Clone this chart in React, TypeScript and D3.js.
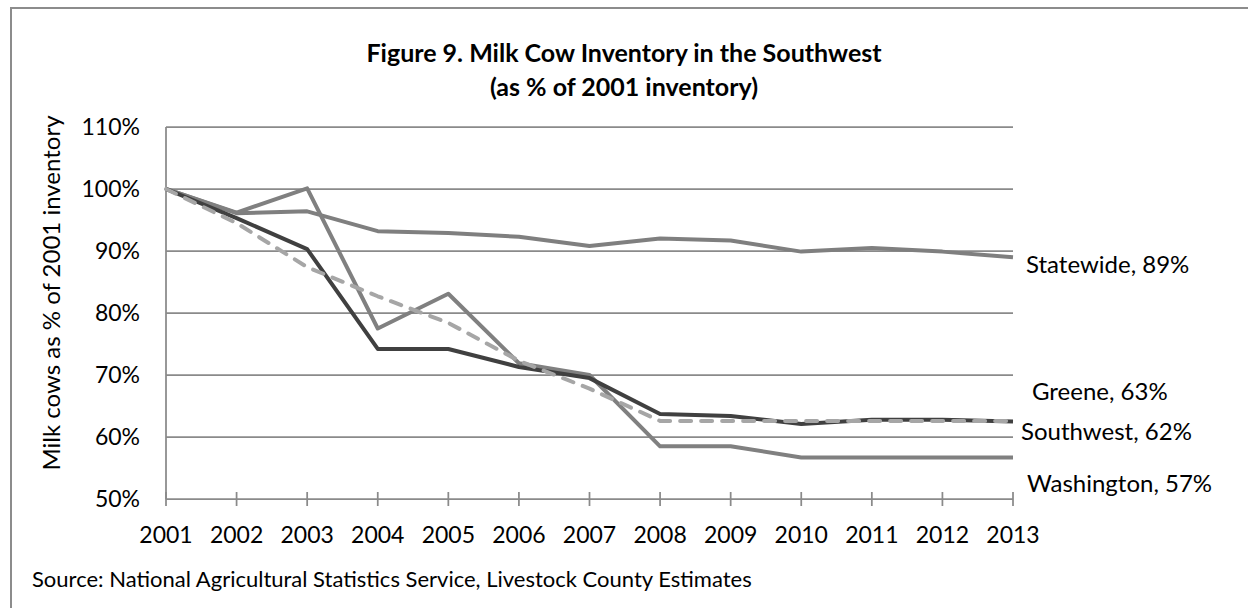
import React from "react";
import * as d3 from "d3";

const years = [2001, 2002, 2003, 2004, 2005, 2006, 2007, 2008, 2009, 2010, 2011, 2012, 2013];
const statewide = [100, 96.1, 96.4, 93.2, 92.9, 92.3, 90.8, 92.0, 91.7, 89.9, 90.5, 89.9, 89.0];
const washington = [100, 96.2, 100.1, 77.5, 83.1, 71.9, 70.0, 58.5, 58.5, 56.7, 56.7, 56.7, 56.7];
const greene = [100, 95.3, 90.3, 74.2, 74.2, 71.3, 69.5, 63.7, 63.4, 62.1, 62.8, 62.8, 62.5];
const southwest = [100, 94.5, 87.4, 82.7, 78.4, 72.3, 67.8, 62.6, 62.6, 62.6, 62.6, 62.6, 62.6];
const yTicks = [50, 60, 70, 80, 90, 100, 110];
const endLabels = ["Statewide, 89%", "Greene, 63%", "Southwest, 62%", "Washington, 57%"];

const FONT = "Lato, 'Noto Sans', sans-serif";

export default function App() {
  const W = 1248, H = 608;
  const x = d3.scaleLinear().domain([2001, 2013]).range([166, 1013]);
  const y = d3.scaleLinear().domain([50, 110]).range([499, 127]);
  const line = d3.line<number>().x((_, i) => x(years[i])).y((v) => y(v));

  const series = [
    { name: "Statewide", data: statewide, color: "#7f7f7f", dash: undefined as string | undefined },
    { name: "Washington", data: washington, color: "#808080", dash: undefined },
    { name: "Greene", data: greene, color: "#404040", dash: undefined },
    { name: "Southwest", data: southwest, color: "#a6a6a6", dash: "11 10" },
  ];

  const labelPos = [
    { x: 1026, y: 273 },
    { x: 1032, y: 400 },
    { x: 1021, y: 440 },
    { x: 1027, y: 492 },
  ];

  const grid = "#8a8a8a";

  return (
    <svg width={W} height={H} style={{ position: "absolute", left: 0, top: 0, background: "#fff" }} fontFamily={FONT}>
      <rect x={11} y={8} width={1260} height={640} fill="#fff" stroke="#8c8c8c" strokeWidth={2} />
      <text x={624} y={62} textAnchor="middle" fontSize={25} fontWeight="bold" fill="#000">
        Figure 9. Milk Cow Inventory in the Southwest
      </text>
      <text x={624} y={96} textAnchor="middle" fontSize={25} fontWeight="bold" fill="#000">
        (as % of 2001 inventory)
      </text>
      {yTicks.map((t) => (
        <g key={t}>
          {t !== 50 && (
            <line x1={166} x2={1013} y1={y(t)} y2={y(t)} stroke={grid} strokeWidth={1.75} />
          )}
          <text x={140} y={y(t) + 8} textAnchor="end" fontSize={23} fill="#000">
            {t}%
          </text>
        </g>
      ))}
      <line x1={166} x2={166} y1={y(110)} y2={y(50)} stroke={grid} strokeWidth={1.75} />
      <line x1={166} x2={1013} y1={y(50)} y2={y(50)} stroke={grid} strokeWidth={1.75} />
      {years.map((yr) => (
        <g key={yr}>
          <line x1={x(yr)} x2={x(yr)} y1={y(50) - 7} y2={y(50) + 7} stroke={grid} strokeWidth={1.75} />
          <text x={x(yr)} y={543} textAnchor="middle" fontSize={23} fill="#000">
            {yr}
          </text>
        </g>
      ))}
      <text
        transform={`translate(60,293) rotate(-90)`}
        textAnchor="middle"
        fontSize={24}
        fill="#000"
      >
        Milk cows as % of 2001 inventory
      </text>
      {series.map((s) => (
        <path
          key={s.name}
          d={line(s.data) || ""}
          fill="none"
          stroke={s.color}
          strokeWidth={4}
          strokeLinejoin="round"
          strokeLinecap={s.dash ? "round" : "butt"}
          strokeDasharray={s.dash}
        />
      ))}
      {endLabels.map((l, i) => (
        <text key={l} x={labelPos[i].x} y={labelPos[i].y} fontSize={24} fill="#000">
          {l}
        </text>
      ))}
      <text x={32} y={587} fontSize={22} fill="#000">
        Source: National Agricultural Statistics Service, Livestock County Estimates
      </text>
    </svg>
  );
}
